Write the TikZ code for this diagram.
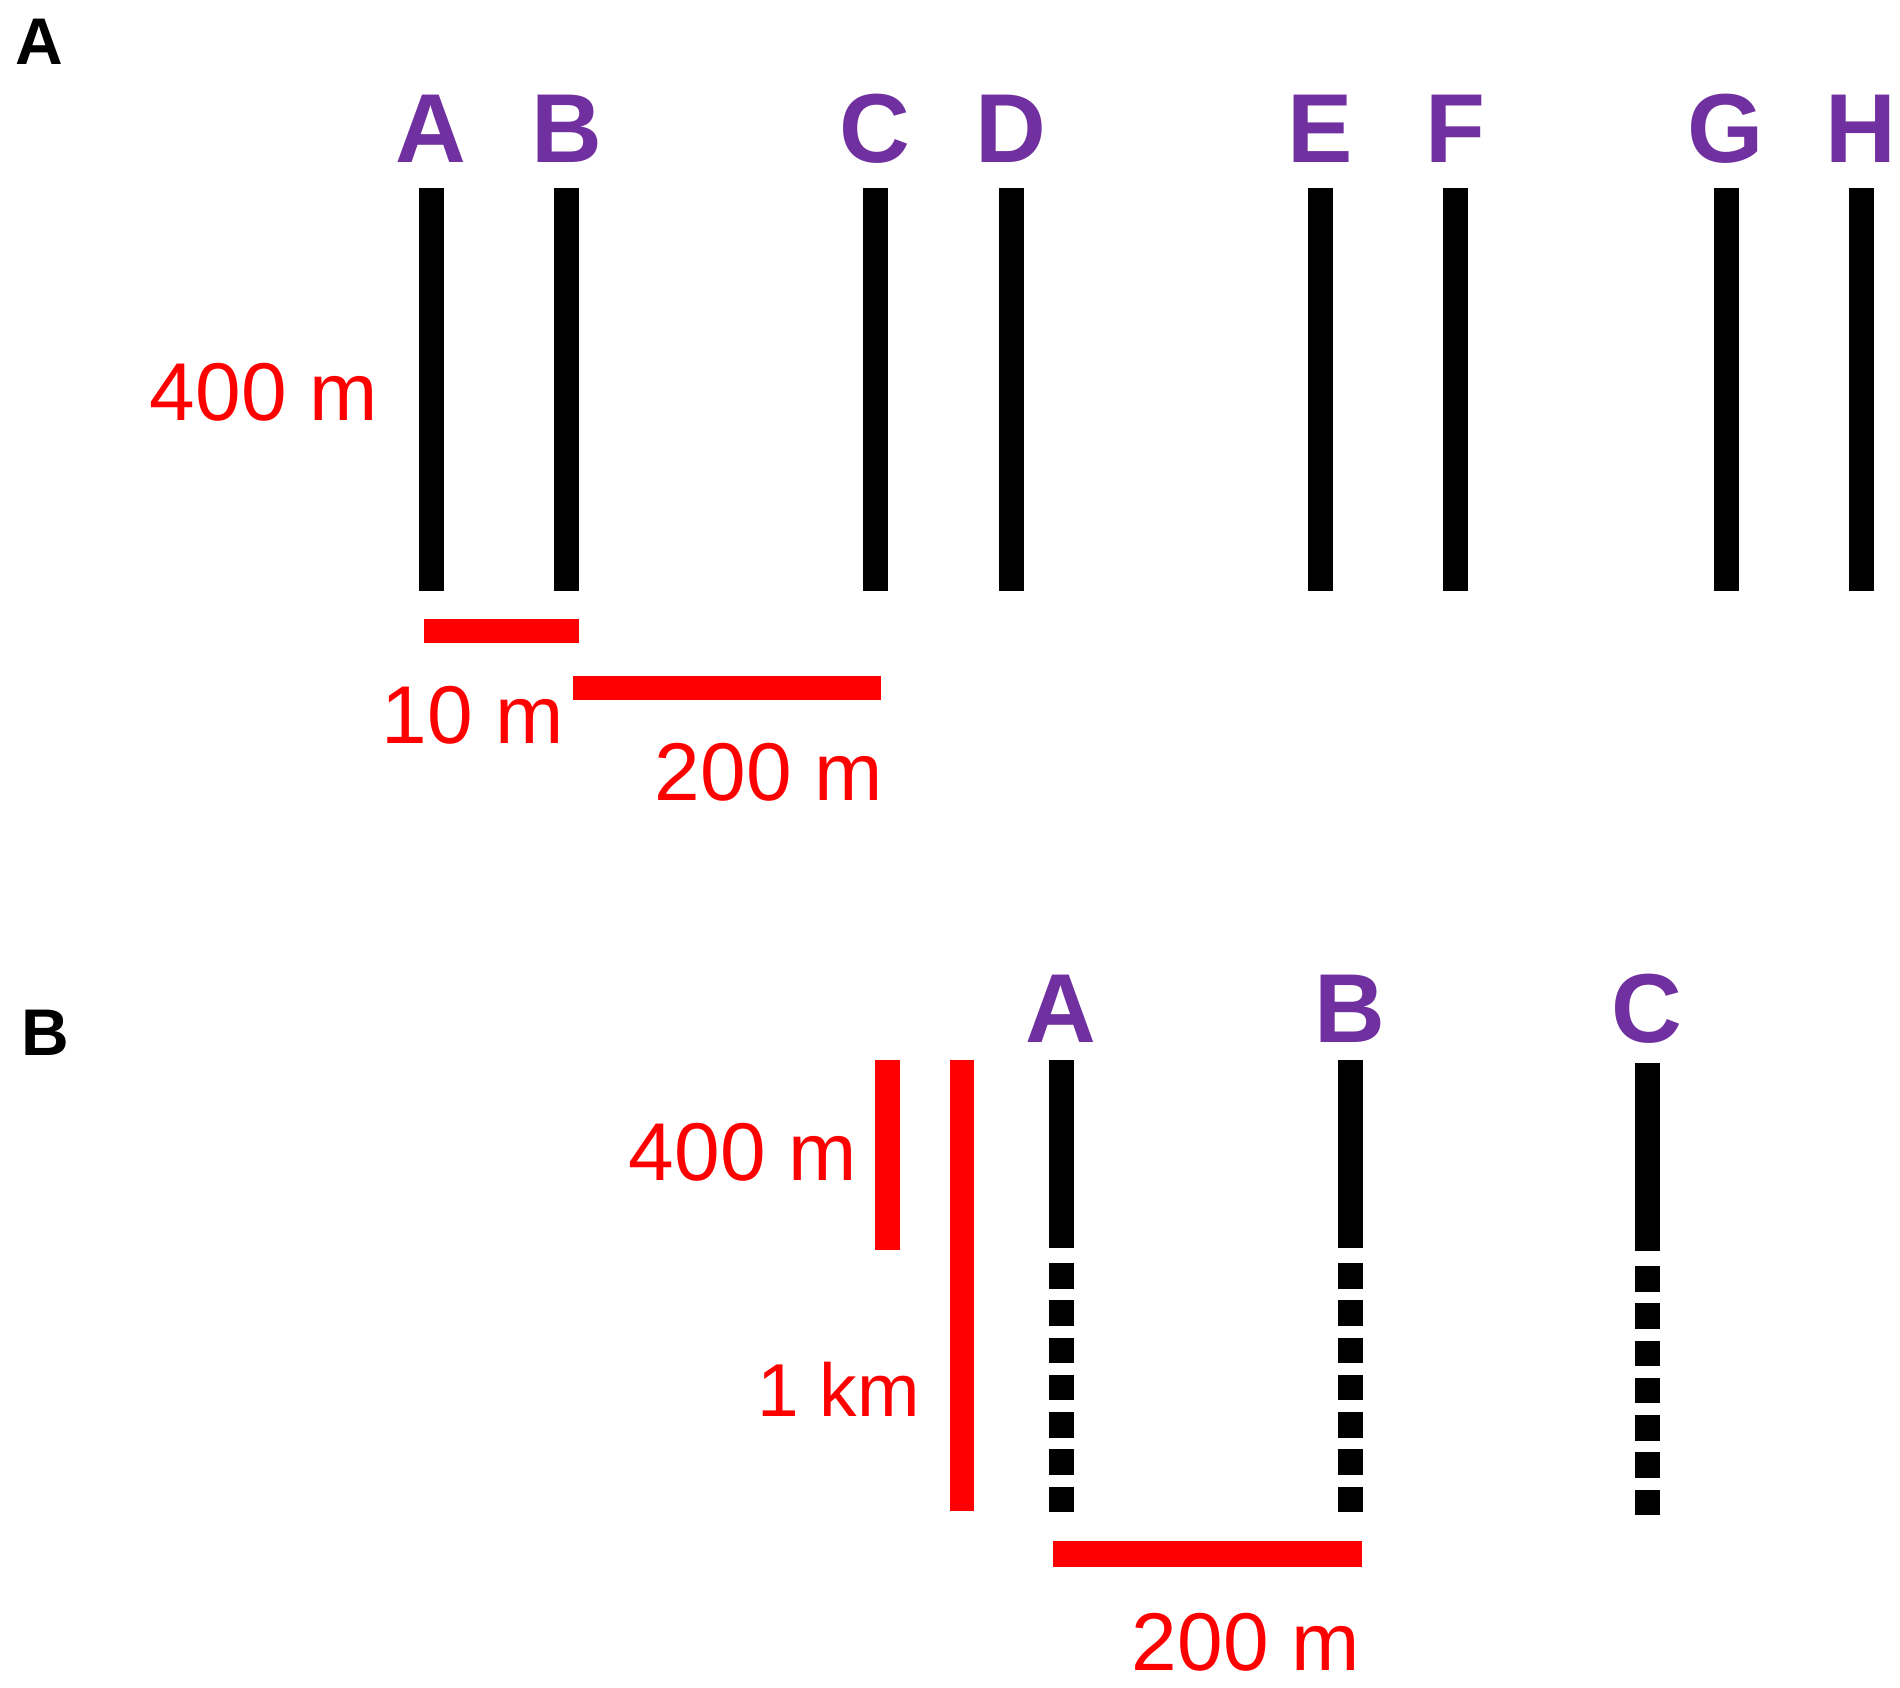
\documentclass[tikz,border=0pt]{standalone}
\usepackage{fontspec}
\setmainfont{Liberation Sans}
\definecolor{lblpurple}{HTML}{7030A0}
\definecolor{scalered}{HTML}{FF0000}
\begin{document}
\begin{tikzpicture}[x=1pt,y=-1pt,
  wellbar/.style={line width=25pt, black},
  dashpart/.style={line width=25pt, black, dash pattern=on 25.5pt off 11.75pt},
  scalebar/.style={line width=24pt, scalered},
  welllabel/.style={inner sep=0pt, anchor=base, text=lblpurple, font=\fontsize{98}{100}\selectfont\bfseries},
  scaletext/.style={inner sep=0pt, anchor=base east, text=scalered, font=\fontsize{82}{90}\selectfont},
  panellabel/.style={inner sep=0pt, anchor=base west, font=\fontsize{66}{70}\selectfont\bfseries}]
\useasboundingbox (0,0) rectangle (1900,1687);
\fill[white] (0,0) rectangle (1900,1687);

% ---------- Panel A ----------
\node[panellabel] (panelA) at (15,64) {A};
\foreach \n/\x in {A/431,B/566.5,C/875,D/1011,E/1320,F/1455,G/1726,H/1861} {
  \node[welllabel] (wA\n) at (\x,162) {\n};
  \draw[wellbar] (\x,188) -- (\x,591);
}
\draw[scalebar] (424,630.5) -- (579,630.5);
\draw[scalebar] (573,688) -- (881,688);
\node[scaletext] (tA400) at (378,420) {400 m};
\node[scaletext] (tA10) at (564,743) {10 m};
\node[scaletext] (tA200) at (883,800) {200 m};

% ---------- Panel B ----------
\node[panellabel] (panelB) at (21,1055) {B};
\foreach \n/\x/\d in {A/1061/0,B/1350/0,C/1647/3} {
  \node[welllabel] (wB\n) at (\x,1042) {\n};
  \draw[wellbar] (\x,1060+\d) -- (\x,1248+\d);
  \draw[dashpart] (\x,1263+\d) -- (\x,1512+\d);
}
\draw[scalebar, line width=25pt] (887.5,1060) -- (887.5,1250);
\draw[scalebar] (962,1060) -- (962,1511);
\draw[scalebar, line width=26pt] (1053,1554) -- (1362,1554);
\node[scaletext] (tB400) at (857,1180) {400 m};
\node[scaletext, font=\fontsize{75}{80}\selectfont] (tB1km) at (920,1416) {1 km};
\node[scaletext] (tB200) at (1360,1670) {200 m};
\end{tikzpicture}
\end{document}
